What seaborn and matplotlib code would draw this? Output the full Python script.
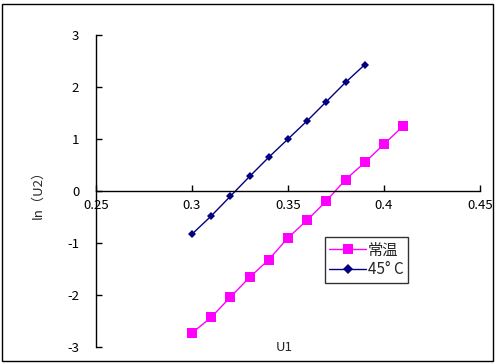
import matplotlib
matplotlib.use("Agg")
import matplotlib.pyplot as plt
import seaborn as sns
import pandas as pd
from matplotlib.patches import Rectangle

# data
u1_room = [0.30, 0.31, 0.32, 0.33, 0.34, 0.35, 0.36, 0.37, 0.38, 0.39, 0.40, 0.41]
ln_u2_room = [-2.73, -2.43, -2.04, -1.66, -1.32, -0.90, -0.56, -0.19, 0.22, 0.55, 0.90, 1.25]
u1_45 = [0.30, 0.31, 0.32, 0.33, 0.34, 0.35, 0.36, 0.37, 0.38, 0.39]
ln_u2_45 = [-0.83, -0.48, -0.10, 0.28, 0.65, 1.00, 1.35, 1.72, 2.09, 2.43]
xticks = [0.25, 0.3, 0.35, 0.4, 0.45]
xtick_labels = ["0.25", "0.3", "0.35", "0.4", "0.45"]
yticks = [-3, -2, -1, 0, 1, 2, 3]

sns.set_style("white")
plt.rcParams["font.family"] = ["Noto Sans CJK SC", "DejaVu Sans"]
plt.rcParams["axes.unicode_minus"] = False

df_room = pd.DataFrame({"U1": u1_room, "lnU2": ln_u2_room})
df_45 = pd.DataFrame({"U1": u1_45, "lnU2": ln_u2_45})

fig = plt.figure(figsize=(4.96, 3.64), dpi=100)
ax = fig.add_axes([96 / 496, 1 - 347 / 364, 384 / 496, 312 / 364])

sns.lineplot(data=df_room, x="U1", y="lnU2", ax=ax, color="#FF00FF", lw=1,
             marker="s", markersize=7, markeredgewidth=0, label="常温")
sns.lineplot(data=df_45, x="U1", y="lnU2", ax=ax, color="#000080", lw=1,
             marker="D", markersize=4.5, markeredgewidth=0, label="45° C")

ax.set_xlim(0.25, 0.45)
ax.set_ylim(-3, 3)
ax.set_xticks(xticks)
ax.set_xticklabels(xtick_labels)
ax.set_yticks(yticks)

ax.spines["top"].set_visible(False)
ax.spines["right"].set_visible(False)
ax.spines["bottom"].set_position(("data", 0))
for s in ("left", "bottom"):
    ax.spines[s].set_color("black")
    ax.spines[s].set_linewidth(1)
ax.tick_params(axis="both", direction="in", length=4, width=1, color="black",
               labelsize=9.5, labelcolor="black", bottom=True, left=True)
ax.tick_params(axis="y", pad=12)
ax.tick_params(axis="x", pad=6)

ax.set_xlabel("U1", fontsize=9.5)
ax.set_ylabel("ln（U2）", fontsize=9.5)
ax.xaxis.set_label_coords(0.49, 0.02)
ax.yaxis.set_label_coords(-0.135, 0.5)

leg = ax.legend(loc="lower left", bbox_to_anchor=(0.596, 0.205), frameon=True,
                fancybox=False, fontsize=11, handlelength=2.4, borderpad=0.3,
                labelspacing=0.2, handletextpad=0.1, borderaxespad=0,
                markerscale=1.1)
leg.get_frame().set_edgecolor("black")
leg.get_frame().set_linewidth(1)

fig.patches.append(Rectangle((2 / 496, 3 / 364), 491 / 496, 357 / 364,
                             transform=fig.transFigure, fill=False,
                             edgecolor="black", lw=1))

fig.savefig("out.png", dpi=100)
